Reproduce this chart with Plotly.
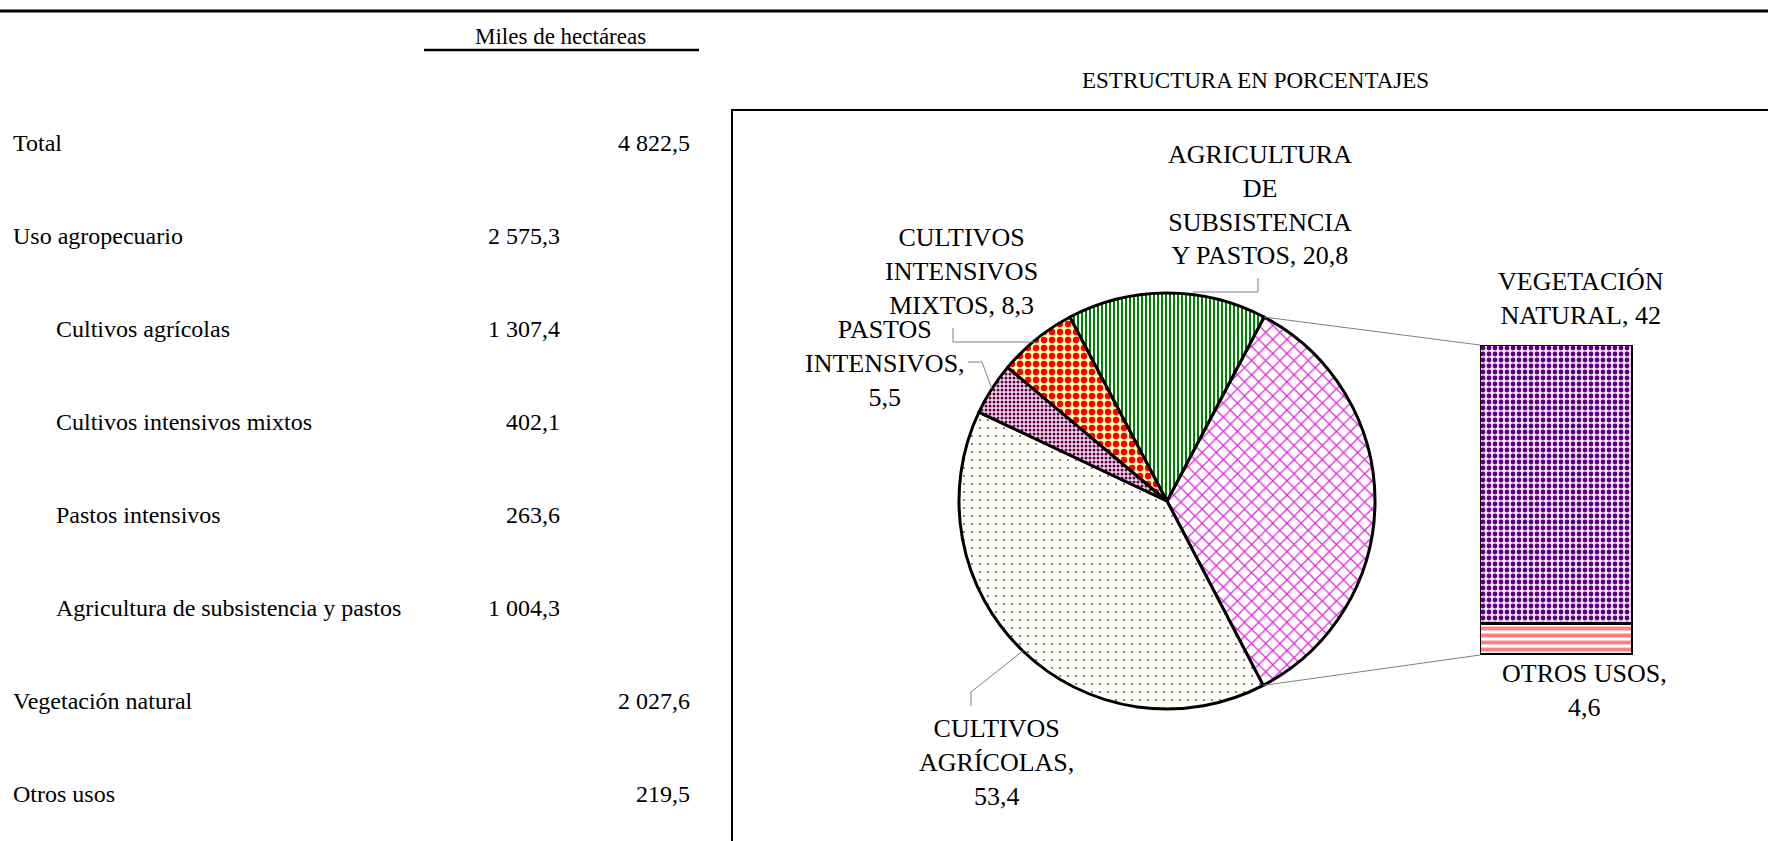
"""Uso del suelo: tabla (miles de ha) + grafico de barra de pastel (estructura en %)."""
import math
import plotly.graph_objects as go

W, H = 1768, 841
FONT = "Liberation Serif, Times New Roman, serif"

# tabla izquierda
table_labels = ["Total", "Uso agropecuario", "Cultivos agrícolas", "Cultivos intensivos mixtos",
                "Pastos intensivos", "Agricultura de subsistencia y pastos", "Vegetación natural", "Otros usos"]
table_values = [4822.5, 2575.3, 1307.4, 402.1, 263.6, 1004.3, 2027.6, 219.5]
table_indent = [0, 0, 1, 1, 1, 1, 0, 0]
table_col = [1, 2, 2, 2, 2, 2, 1, 1]

# pastel (el primer sector es el grupo que se abre en la barra)
pie_labels = ["OTROS", "CULTIVOS<br>AGRÍCOLAS", "PASTOS<br>INTENSIVOS", "CULTIVOS<br>INTENSIVOS<br>MIXTOS",
              "AGRICULTURA<br>DE<br>SUBSISTENCIA<br>Y PASTOS"]
pie_sep = [", ", ",<br>", ",<br>", ", ", ", "]
bar_labels = ["OTROS USOS", "VEGETACIÓN<br>NATURAL"]
bar_sep = [",<br>", ", "]
bar_values = [4.6, 42]
pie_values = [sum(bar_values), 53.4, 5.5, 8.3, 20.8]

pie_fg = ["#e020e0", "#6a5acd", "#600040", "#ff0000", "#008000"]
pie_bg = ["#ffffff", "#fffff4", "#f4dcf0", "#ffffb0", "#ffffff"]
pie_shape = ["x", ".", ".", ".", "|"]
pie_size = [10, 8, 4, 8, 4]
pie_sol = [0.22, 0.06, 0.45, 0.5, 0.5]
bar_fg = ["#ff8080", "#5c0080"]
bar_bg = ["#ffffff", "#f6e6ff"]
bar_shape = ["-", "."]
bar_size = [7, 6]
bar_sol = [0.55, 0.5]


def px(x, y):
    return x / W, 1 - y / H


def fmt_num(v):
    return f"{v:,.1f}".replace(",", " ").replace(".", ",")


def fmt_pct(v):
    return (f"{v:g}").replace(".", ",")


# geometria (pixeles)
CX, CY, R = 1167, 501, 208
BX0, BX1, BY0, BY1 = 1480, 1633, 345, 655

fig = go.Figure()
fig.add_trace(go.Pie(
    labels=[l.replace("<br>", " ") for l in pie_labels], values=pie_values, sort=False,
    direction="clockwise", rotation=pie_values[-1] / sum(pie_values) * 180,
    textinfo="none", showlegend=False,
    domain=dict(x=[(CX - R) / W, (CX + R) / W], y=[1 - (CY + R) / H, 1 - (CY - R) / H]),
    marker=dict(colors=pie_bg, line=dict(color="black", width=3),
                pattern=dict(shape=pie_shape, fgcolor=pie_fg, bgcolor=pie_bg, size=pie_size,
                             solidity=pie_sol, fillmode="replace")),
))
for i in range(len(bar_values)):
    fig.add_trace(go.Bar(
        x=[0], y=[bar_values[i]], width=1, name=bar_labels[i].replace("<br>", " "), showlegend=False,
        marker=dict(color=bar_bg[i], line=dict(color="black", width=3),
                    pattern=dict(shape=bar_shape[i], fgcolor=bar_fg[i], bgcolor=bar_bg[i],
                                 size=bar_size[i], solidity=bar_sol[i], fillmode="replace")),
        xaxis="x", yaxis="y",
    ))

ann = []
shapes = []


def note(x, y, text, size, **kw):
    xx, yy = px(x, y)
    d = dict(x=xx, y=yy, xref="paper", yref="paper", text=text, showarrow=False,
             font=dict(family=FONT, size=size, color="black"), xanchor="center", yanchor="middle")
    d.update(kw)
    ann.append(d)


# tabla
TABLE_TOP, ROW_STEP = 143, 93
for i, (lab, val) in enumerate(zip(table_labels, table_values)):
    y = TABLE_TOP + i * ROW_STEP
    note(11 if table_indent[i] == 0 else 54, y, lab, 24, xanchor="left")
    note(692 if table_col[i] == 1 else 562, y, fmt_num(val), 24, xanchor="right")

note(560, 36, "Miles de hectáreas", 23)
note(1255, 81, "ESTRUCTURA EN PORCENTAJES", 23)

# etiquetas del pastel y la barra
pie_lab_pos = {1: (996, 762), 2: (885, 363), 3: (962, 272), 4: (1260, 205)}
for i, (lx, ly) in pie_lab_pos.items():
    note(lx, ly, f"{pie_labels[i]}{pie_sep[i]}{fmt_pct(pie_values[i])}", 26, align="center")
bar_lab_pos = [(1584, 690), (1581, 298)]
for i, (lx, ly) in enumerate(bar_lab_pos):
    note(lx, ly, f"{bar_labels[i]}{bar_sep[i]}{fmt_pct(bar_values[i])}", 26, align="center")


def ang_pt(deg, r=R):
    a = math.radians(deg)
    return CX + r * math.sin(a), CY - r * math.cos(a)


# angulos de los sectores (horario desde las 12)
tot = sum(pie_values)
rot = pie_values[-1] / tot * 180
starts, mids = [], []
acc = rot
for v in pie_values:
    starts.append(acc)
    mids.append(acc + v / tot * 180)
    acc += v / tot * 360


def path(pts):
    s = ""
    for k, (a, b) in enumerate(pts):
        xx, yy = px(a, b)
        s += ("M" if k == 0 else "L") + f"{xx},{yy} "
    return s


# lineas guia
elbows = {1: [(971, 692), (971, 706)], 2: [(982, 362), (968, 362)],
          3: [(953, 342), (953, 328)], 4: [(1258, 292), (1258, 278)]}
for i, pts in elbows.items():
    sx, sy = ang_pt(mids[i] % 360)
    if i in (3, 4):
        sy = pts[0][1]
    if i == 4:
        sx = CX + 26
    shapes.append(dict(type="path", xref="paper", yref="paper", path=path([(sx, sy)] + pts),
                       line=dict(color="#808080", width=1)))

# conectores pastel -> barra
p_top = ang_pt(starts[0])
p_bot = ang_pt(starts[1])
shapes.append(dict(type="path", xref="paper", yref="paper", path=path([p_top, (BX0, BY0)]),
                   line=dict(color="#808080", width=1)))
shapes.append(dict(type="path", xref="paper", yref="paper", path=path([p_bot, (BX0, BY1)]),
                   line=dict(color="#808080", width=1)))

# lineas de la tabla y recuadro
shapes.append(dict(type="line", xref="paper", yref="paper", x0=0, x1=1, y0=px(0, 11)[1], y1=px(0, 11)[1],
                   line=dict(color="black", width=3)))
shapes.append(dict(type="line", xref="paper", yref="paper", x0=px(424, 0)[0], x1=px(699, 0)[0],
                   y0=px(0, 50)[1], y1=px(0, 50)[1], line=dict(color="black", width=2.5)))
shapes.append(dict(type="path", xref="paper", yref="paper",
                   path=path([(732, 900), (732, 110), (1800, 110)]), line=dict(color="black", width=2)))

fig.update_layout(
    width=W, height=H, margin=dict(l=0, r=0, t=0, b=0),
    paper_bgcolor="white", plot_bgcolor="rgba(0,0,0,0)",
    font=dict(family=FONT, color="black"),
    barmode="stack", bargap=0,
    xaxis=dict(domain=[BX0 / W, BX1 / W], range=[-0.5, 0.5], visible=False, fixedrange=True),
    yaxis=dict(domain=[1 - BY1 / H, 1 - BY0 / H], range=[0, sum(bar_values)], visible=False, fixedrange=True),
    annotations=ann, shapes=shapes,
)

# sin margen del body para que la figura llene la ventana
fig.write_html("out.html", config={"displayModeBar": False},
               post_script="document.body.style.margin='0';")
